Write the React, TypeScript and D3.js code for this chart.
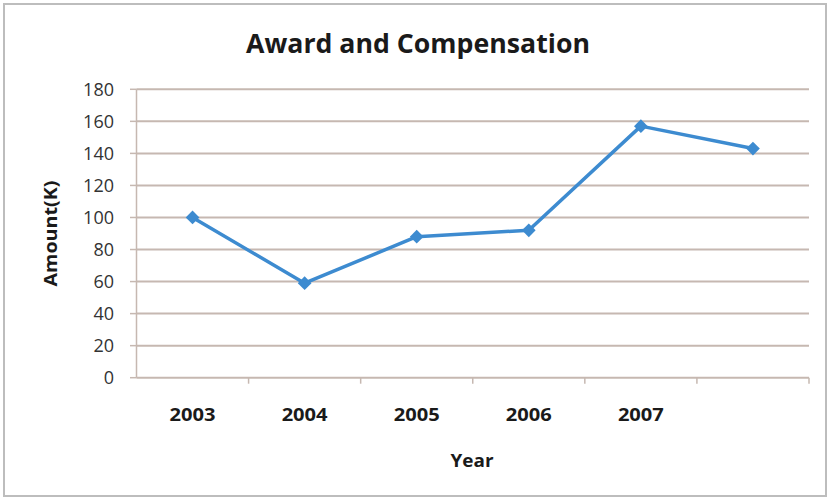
import React from "react";
import * as d3 from "d3";

const categories = ["2003", "2004", "2005", "2006", "2007", ""];
const values = [100, 59, 88, 92, 157, 143];
const yTicks = [0, 20, 40, 60, 80, 100, 120, 140, 160, 180];

export default function App() {
  const W = 831, H = 500;
  const left = 136.5, right = 809, top = 89.3, bottom = 377.7;
  const keys = categories.map((c, i) => i + ":" + c);
  const x = d3.scaleBand<string>().domain(keys).range([left, right]).paddingInner(0).paddingOuter(0);
  const y = d3.scaleLinear().domain([0, 180]).range([bottom, top]);
  const cx = (i: number) => (x(keys[i]) as number) + x.bandwidth() / 2;
  const line = d3.line<number>().x((_, i) => cx(i)).y(d => y(d));
  const diamond = d3.symbol().type(d3.symbolDiamond2).size(120)();
  const gridColor = "#c6b8b1";
  const font = "'Open Sans', 'Liberation Sans', sans-serif";
  return (
    <svg width={W} height={H} style={{ position: "absolute", left: 0, top: 0 }}>
      <rect x={0} y={0} width={W} height={H} fill="#ffffff" />
      <rect x={4} y={4} width={822} height={492} fill="#ffffff" stroke="#bdbdbd" strokeWidth={2} />
      <text x={418} y={53} textAnchor="middle" fontFamily={font} fontWeight="bold" fontSize={27} fill="#1a1a1a" textLength={344} lengthAdjust="spacingAndGlyphs">Award and Compensation</text>
      {yTicks.map(t => (
        <g key={t}>
          {t > 0 && <line x1={left} x2={right} y1={y(t)} y2={y(t)} stroke={gridColor} strokeWidth={2} />}
          <line x1={130} x2={left} y1={y(t)} y2={y(t)} stroke={gridColor} strokeWidth={1.5} />
          <text x={114} y={y(t)} dy="0.36em" textAnchor="end" fontFamily={font} fontSize={18} fill="#333333">{t}</text>
        </g>
      ))}
      <line x1={left} x2={left} y1={top} y2={bottom} stroke={gridColor} strokeWidth={1.5} />
      <line x1={left} x2={right} y1={bottom} y2={bottom} stroke={gridColor} strokeWidth={2} />
      {keys.map(k => (
        <line key={k} x1={(x(k) as number) + x.bandwidth()} x2={(x(k) as number) + x.bandwidth()} y1={bottom} y2={bottom + 6} stroke={gridColor} strokeWidth={1.5} />
      ))}
      {categories.map((c, i) => (
        <text key={i} x={cx(i)} y={414} dy="0.36em" textAnchor="middle" fontFamily={font} fontWeight="bold" fontSize={18.5} fill="#1a1a1a" textLength={c ? 46 : undefined} lengthAdjust="spacingAndGlyphs">{c}</text>
      ))}
      <text x={472} y={460} dy="0.36em" textAnchor="middle" fontFamily={font} fontWeight="bold" fontSize={18.5} fill="#1a1a1a" textLength={43} lengthAdjust="spacingAndGlyphs">Year</text>
      <text transform={`translate(50,${233.5}) rotate(-90)`} dy="0.36em" textAnchor="middle" fontFamily={font} fontWeight="bold" fontSize={18.5} fill="#1a1a1a" textLength={106} lengthAdjust="spacingAndGlyphs">Amount(K)</text>
      <path d={line(values) as string} fill="none" stroke="#3d8bd0" strokeWidth={3.5} strokeLinejoin="round" />
      {values.map((v, i) => (
        <path key={i} d={diamond as string} transform={`translate(${cx(i)},${y(v)})`} fill="#3d8bd0" />
      ))}
    </svg>
  );
}
